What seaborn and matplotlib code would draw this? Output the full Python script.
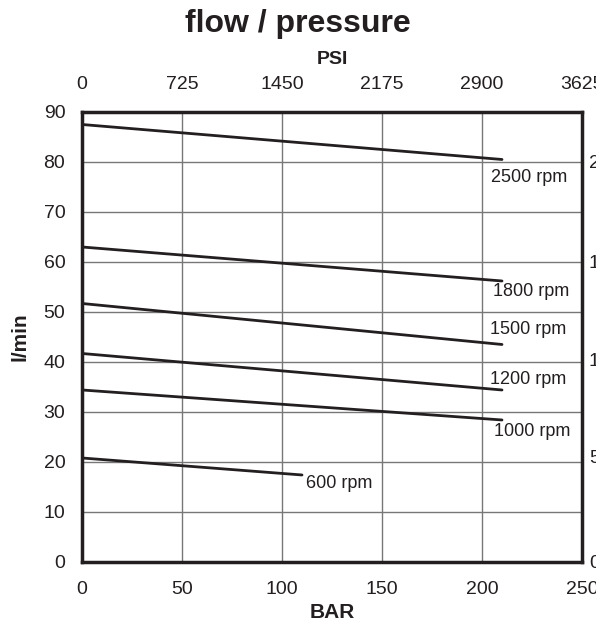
import pandas as pd
import numpy as np
import matplotlib.pyplot as plt
import seaborn as sns

# data (BAR -> l/min, start and end of each line)
rpm = ["2500 rpm", "1800 rpm", "1500 rpm", "1200 rpm", "1000 rpm", "600 rpm"]
bar_start = [0, 0, 0, 0, 0, 0]
bar_end = [210, 210, 210, 210, 210, 110]
flow_start = [87.5, 63.0, 51.7, 41.7, 34.4, 20.8]
flow_end = [80.5, 56.2, 43.5, 34.4, 28.4, 17.4]

# label positions (BAR, l/min)
label_x = [204.5, 205.5, 204, 204, 206, 112]
label_y = [76.8, 54.0, 46.4, 36.4, 26.0, 15.6]

bar_ticks = [0, 50, 100, 150, 200, 250]
psi_labels = ["0", "725", "1450", "2175", "2900", "3625"]
lpm_ticks = [0, 10, 20, 30, 40, 50, 60, 70, 80, 90]
gpm_pos = [0, 21, 40.5, 60, 80]
gpm_labels = ["0", "5", "10", "15", "20"]

rows = []
for name, x0, x1, y0, y1 in zip(rpm, bar_start, bar_end, flow_start, flow_end):
    rows.append({"rpm": name, "bar": x0, "lpm": y0})
    rows.append({"rpm": name, "bar": x1, "lpm": y1})
df = pd.DataFrame(rows)

sns.set_style("white")
plt.rcParams['font.family'] = ['Liberation Sans', 'DejaVu Sans']
ink = "#231f20"

fig = plt.figure(figsize=(5.96, 6.32), dpi=100)
ax = fig.add_axes([0.1376, 0.1108, 0.8389, 0.7120])

sns.lineplot(data=df, x="bar", y="lpm", units="rpm", estimator=None,
             color=ink, lw=2, ax=ax, zorder=3)

for name, x, y in zip(rpm, label_x, label_y):
    ax.text(x, y, name, fontsize=13, ha="left", va="center", color=ink)

ax.set_xlim(0, 250)
ax.set_ylim(0, 90)
ax.set_xticks(bar_ticks)
ax.set_yticks(lpm_ticks)
ax.grid(True, color="#777777", lw=1)
for s in ax.spines.values():
    s.set_color(ink)
    s.set_linewidth(2.5)
ax.tick_params(length=0, labelsize=14, colors=ink)
ax.tick_params(axis="x", pad=14)
ax.tick_params(axis="y", pad=12)
ax.set_xlabel("BAR", fontsize=15, fontweight="bold", color=ink, labelpad=3)
ax.set_ylabel("l/min", fontsize=15, fontweight="bold", color=ink, labelpad=10)

# top PSI axis
top = ax.twiny()
top.set_xlim(ax.get_xlim())
top.set_xticks(bar_ticks)
top.set_xticklabels(psi_labels)
top.tick_params(length=0, labelsize=14, colors=ink, pad=14)
top.set_xlabel("PSI", fontsize=14, fontweight="bold", color=ink, labelpad=8)
for s in top.spines.values():
    s.set_visible(False)

# right axis (cut at figure edge)
right = ax.twinx()
right.set_ylim(ax.get_ylim())
right.set_yticks(gpm_pos)
right.set_yticklabels(gpm_labels)
right.tick_params(length=0, labelsize=14, colors=ink, pad=5)
for s in right.spines.values():
    s.set_visible(False)

fig.suptitle("flow / pressure", fontsize=23, fontweight="bold", color=ink, y=0.985)

fig.savefig("out.png", dpi=100)
